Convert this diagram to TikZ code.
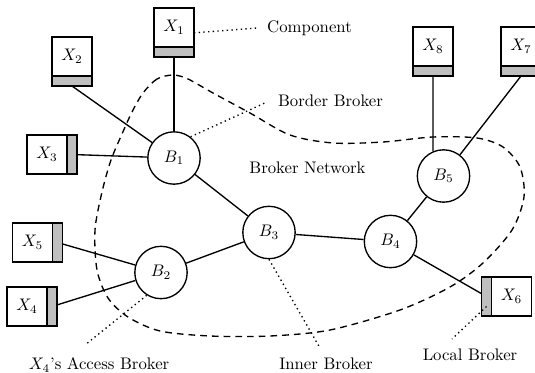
\documentclass[tikz,border=0pt]{standalone}
\usetikzlibrary{positioning}

\tikzset{
  broker/.style={circle, draw, thick, minimum size=1.1cm, inner sep=0pt},
  comp/.style={rectangle, draw, thick, outer sep=0pt, inner sep=0pt,
    minimum width=0.84cm, minimum height=0.82cm},
  port/.style={rectangle, draw, thick, outer sep=0pt, inner sep=0pt, fill=lightgray},
  hport/.style={port, minimum width=0.84cm, minimum height=0.21cm},
  vport/.style={port, minimum width=0.21cm, minimum height=0.82cm},
  link/.style={thick},
  note/.style={dotted, thick},
  lbl/.style={inner sep=0pt},
}

\begin{document}
\begin{tikzpicture}[x=0.021cm, y=-0.021cm]
  \useasboundingbox (0, 0) rectangle (535, 373);

  % broker network boundary
  \draw[dash pattern=on 4pt off 3pt, thick] plot[smooth cycle] coordinates {
    (173,75) (157,79) (143,93) (132,112) (122,134) (111,160) (102,192)
    (95,230) (97,270) (108,298) (128,317) (160,331) (210,336) (270,336)
    (330,330) (400,310) (450,287) (483,263) (512,230) (524,197) (520,167)
    (503,147) (477,138) (433,137) (383,142) (333,143) (290,135) (250,113)
    (213,93) (188,79)};

  % brokers
  \node[broker] (b1) at (174, 158) {$B_1$};
  \node[broker] (b2) at (161, 272.5) {$B_2$};
  \node[broker] (b3) at (269, 232.5) {$B_3$};
  \node[broker] (b4) at (390.5, 241.5) {$B_4$};
  \node[broker] (b5) at (443.5, 176) {$B_5$};

  % components with their ports
  \node[comp] (x1) at (174, 27.5) {$X_1$};
  \node[hport, below=0pt of x1] (x1p) {};
  \node[comp] (x2) at (72, 56.5) {$X_2$};
  \node[hport, below=0pt of x2] (x2p) {};
  \node[comp] (x3) at (47, 154.5) {$X_3$};
  \node[vport, right=0pt of x3] (x3p) {};
  \node[comp] (x5) at (32.5, 242.5) {$X_5$};
  \node[vport, right=0pt of x5] (x5p) {};
  \node[comp] (x4) at (27, 306.5) {$X_4$};
  \node[vport, right=0pt of x4] (x4p) {};
  \node[comp] (x6) at (511.5, 296.5) {$X_6$};
  \node[vport, left=0pt of x6] (x6p) {};
  \node[comp] (x8) at (433, 46.5) {$X_8$};
  \node[hport, below=0pt of x8] (x8p) {};
  \node[comp] (x7) at (521, 46.5) {$X_7$};
  \node[hport, below=0pt of x7] (x7p) {};

  % links
  \draw[link] (x1p) -- (b1);
  \draw[link] (x2p.south) -- (b1);
  \draw[link] (x3p) -- (b1);
  \draw[link] (b1) -- (b3);
  \draw[link] (x5p) -- (b2);
  \draw[link] (x4p) -- (b2);
  \draw[link] (b2) -- (b3);
  \draw[link] (b3) -- (b4);
  \draw[link] (b4) -- (b5);
  \draw[link] (b4) -- (x6p);
  \draw[link] (x8p.south) -- (b5.113);
  \draw[link] (x7p.south) -- (b5);

  % labels
  \node[lbl] (cmp) at (309.5, 28) {Component};
  \node[lbl] (brd) at (330.5, 100.5) {Border Broker};
  \node[lbl] (net) at (307.5, 168) {Broker Network};
  \node[lbl] (acc) at (99, 365) {$X_4$'s Access Broker};
  \node[lbl] (inr) at (326, 364) {Inner Broker};
  \node[lbl] (loc) at (470, 355) {Local Broker};

  \coordinate (cmpend) at (257, 28);
  \coordinate (brdend) at (267, 102);
  \coordinate (accend) at (85, 345);
  \coordinate (inrend) at (320, 348);
  \coordinate (locend) at (452, 339);

  \draw[note] (x1.-15) -- (cmpend);
  \draw[note] (b1.52) -- (brdend);
  \draw[note] (b2.-122) -- (accend);
  \draw[note] (b3.south) -- (inrend);
  \draw[note] ([yshift=-0.21cm]x6p.center) -- (locend);
\end{tikzpicture}
\end{document}
